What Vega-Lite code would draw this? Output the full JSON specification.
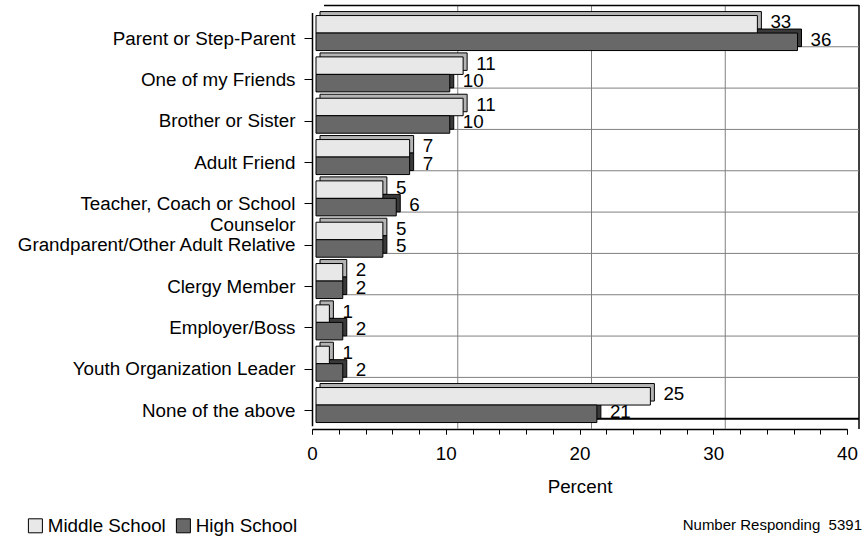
{
  "$schema": "https://vega.github.io/schema/vega-lite/v6.json",
  "width": 535,
  "height": 424,
  "autosize": "none",
  "padding": {"left": 312, "top": 5, "right": 17, "bottom": 110},
  "background": "white",
  "config": {
    "font": "Liberation Sans",
    "view": {"stroke": null},
    "axis": {"labelColor": "black", "titleColor": "black", "domainColor": "black", "tickColor": "black", "labelOverlap": false, "labelFlush": false}
  },
  "title": {
    "text": "Number Responding\u00a0 5391",
    "orient": "bottom",
    "anchor": "end",
    "frame": "group",
    "fontSize": 15,
    "fontWeight": "normal",
    "color": "black",
    "offset": 0,
    "dx": 15,
    "dy": -18
  },
  "datasets": {
    "answers": [
      {"category": "Parent or Step-Parent", "school": "Middle School", "value": 33},
      {"category": "Parent or Step-Parent", "school": "High School", "value": 36},
      {"category": "One of my Friends", "school": "Middle School", "value": 11},
      {"category": "One of my Friends", "school": "High School", "value": 10},
      {"category": "Brother or Sister", "school": "Middle School", "value": 11},
      {"category": "Brother or Sister", "school": "High School", "value": 10},
      {"category": "Adult Friend", "school": "Middle School", "value": 7},
      {"category": "Adult Friend", "school": "High School", "value": 7},
      {"category": "Teacher, Coach or School Counselor", "school": "Middle School", "value": 5},
      {"category": "Teacher, Coach or School Counselor", "school": "High School", "value": 6},
      {"category": "Grandparent/Other Adult Relative", "school": "Middle School", "value": 5},
      {"category": "Grandparent/Other Adult Relative", "school": "High School", "value": 5},
      {"category": "Clergy Member", "school": "Middle School", "value": 2},
      {"category": "Clergy Member", "school": "High School", "value": 2},
      {"category": "Employer/Boss", "school": "Middle School", "value": 1},
      {"category": "Employer/Boss", "school": "High School", "value": 2},
      {"category": "Youth Organization Leader", "school": "Middle School", "value": 1},
      {"category": "Youth Organization Leader", "school": "High School", "value": 2},
      {"category": "None of the above", "school": "Middle School", "value": 25},
      {"category": "None of the above", "school": "High School", "value": 21}
    ],
    "wallLines": [{"v": 10}, {"v": 20}, {"v": 30}, {"v": 40}]
  },
  "data": {"name": "answers"},
  "resolve": {"scale": {"yOffset": "independent"}, "axis": {"x": "independent"}},
  "layer": [
    {
      "data": {"name": "wallLines"},
      "mark": {"type": "rule", "xOffset": 12, "y2Offset": -12},
      "encoding": {
        "x": {
          "field": "v",
          "type": "quantitative",
          "scale": {"domain": [0, 40], "nice": false},
          "axis": {
            "orient": "bottom",
            "title": null,
            "labels": false,
            "domain": false,
            "grid": false,
            "tickSize": 5,
            "values": [0, 2, 4, 6, 8, 10, 12, 14, 16, 18, 20, 22, 24, 26, 28, 30, 32, 34, 36, 38, 40]
          }
        },
        "color": {"condition": {"test": "datum.v === 40", "value": "black"}, "value": "#808080"},
        "strokeWidth": {"condition": {"test": "datum.v === 40", "value": 1.5}, "value": 1}
      }
    },
    {
      "transform": [{"filter": "datum.school === 'High School'"}],
      "mark": {"type": "rule", "color": "#808080", "strokeWidth": 1, "xOffset": 12, "x2Offset": 12, "yOffset": 13.7},
      "encoding": {
        "y": {"field": "category", "type": "nominal", "sort": null},
        "x": {"datum": 0, "axis": null},
        "x2": {"datum": 40}
      }
    },
    {
      "transform": [{"filter": "datum.school === 'High School' && datum.category === 'Parent or Step-Parent'"}],
      "mark": {"type": "rule", "color": "black", "strokeWidth": 1.5, "xOffset": 12, "x2Offset": 12, "yOffset": -27.6},
      "encoding": {
        "y": {"field": "category", "type": "nominal", "sort": null},
        "x": {"datum": 0, "axis": null},
        "x2": {"datum": 40}
      }
    },
    {
      "transform": [{"filter": "datum.school === 'High School' && datum.category === 'None of the above'"}],
      "mark": {"type": "rule", "color": "black", "strokeWidth": 2, "xOffset": 12, "x2Offset": 12, "yOffset": 13.7},
      "encoding": {
        "y": {"field": "category", "type": "nominal", "sort": null},
        "x": {"datum": 0, "axis": null},
        "x2": {"datum": 40}
      }
    },
    {
      "mark": {"type": "bar", "xOffset": 8, "x2Offset": 8, "stroke": "black", "strokeWidth": 1},
      "encoding": {
        "y": {"field": "category", "type": "nominal", "sort": null},
        "yOffset": {"field": "school", "type": "nominal", "sort": ["Middle School", "High School"], "scale": {"range": [-4, 31], "paddingInner": 0, "paddingOuter": 0}},
        "x": {"field": "value", "type": "quantitative", "axis": null},
        "color": {"condition": {"test": "datum.school === 'Middle School'", "value": "#b4b4b4"}, "value": "#3a3a3a"}
      }
    },
    {
      "mark": {"type": "bar", "xOffset": 4, "x2Offset": 4, "stroke": "black", "strokeWidth": 1},
      "encoding": {
        "y": {
          "field": "category",
          "type": "nominal",
          "sort": null,
          "scale": {"range": [7.4, 420.7], "paddingInner": 0.153, "paddingOuter": 0.0765},
          "axis": {
            "title": null,
            "labelFontSize": 18.8,
            "labelPadding": 9,
            "labelLimit": 400,
            "labelLineHeight": 21,
            "labelExpr": "datum.value === 'Teacher, Coach or School Counselor' ? ['Teacher, Coach or School', 'Counselor'] : datum.label",
            "tickSize": 8,
            "tickOffset": 5,
            "domainWidth": 1.5
          }
        },
        "yOffset": {"field": "school", "type": "nominal", "sort": ["Middle School", "High School"], "scale": {"range": [0, 35], "paddingInner": 0, "paddingOuter": 0}},
        "x": {
          "field": "value",
          "type": "quantitative",
          "axis": {
            "orient": "bottom",
            "title": "Percent",
            "titleFontSize": 18.8,
            "titleFontWeight": "normal",
            "titlePadding": 15,
            "values": [0, 10, 20, 30, 40],
            "labelFontSize": 18.8,
            "labelPadding": 10,
            "tickSize": 5,
            "grid": false,
            "domainWidth": 1.5
          }
        },
        "color": {
          "field": "school",
          "type": "nominal",
          "sort": ["Middle School", "High School"],
          "scale": {"domain": ["Middle School", "High School"], "range": ["#e8e8e8", "#686868"]},
          "legend": {
            "title": null,
            "orient": "none",
            "direction": "horizontal",
            "legendX": -286,
            "legendY": 511,
            "symbolType": "square",
            "symbolSize": 196,
            "symbolStrokeColor": "black",
            "symbolStrokeWidth": 1,
            "labelFontSize": 18.8,
            "labelColor": "black",
            "labelOffset": 3,
            "columnPadding": 8
          }
        }
      }
    },
    {
      "mark": {"type": "text", "align": "left", "baseline": "middle", "dx": 17, "dy": -2, "fontSize": 18.8, "color": "black"},
      "encoding": {
        "y": {"field": "category", "type": "nominal", "sort": null},
        "yOffset": {"field": "school", "type": "nominal", "sort": ["Middle School", "High School"], "scale": {"range": [8.75, 26.25], "padding": 0}},
        "x": {"field": "value", "type": "quantitative", "axis": null},
        "text": {"field": "value", "type": "quantitative"}
      }
    }
  ]
}
